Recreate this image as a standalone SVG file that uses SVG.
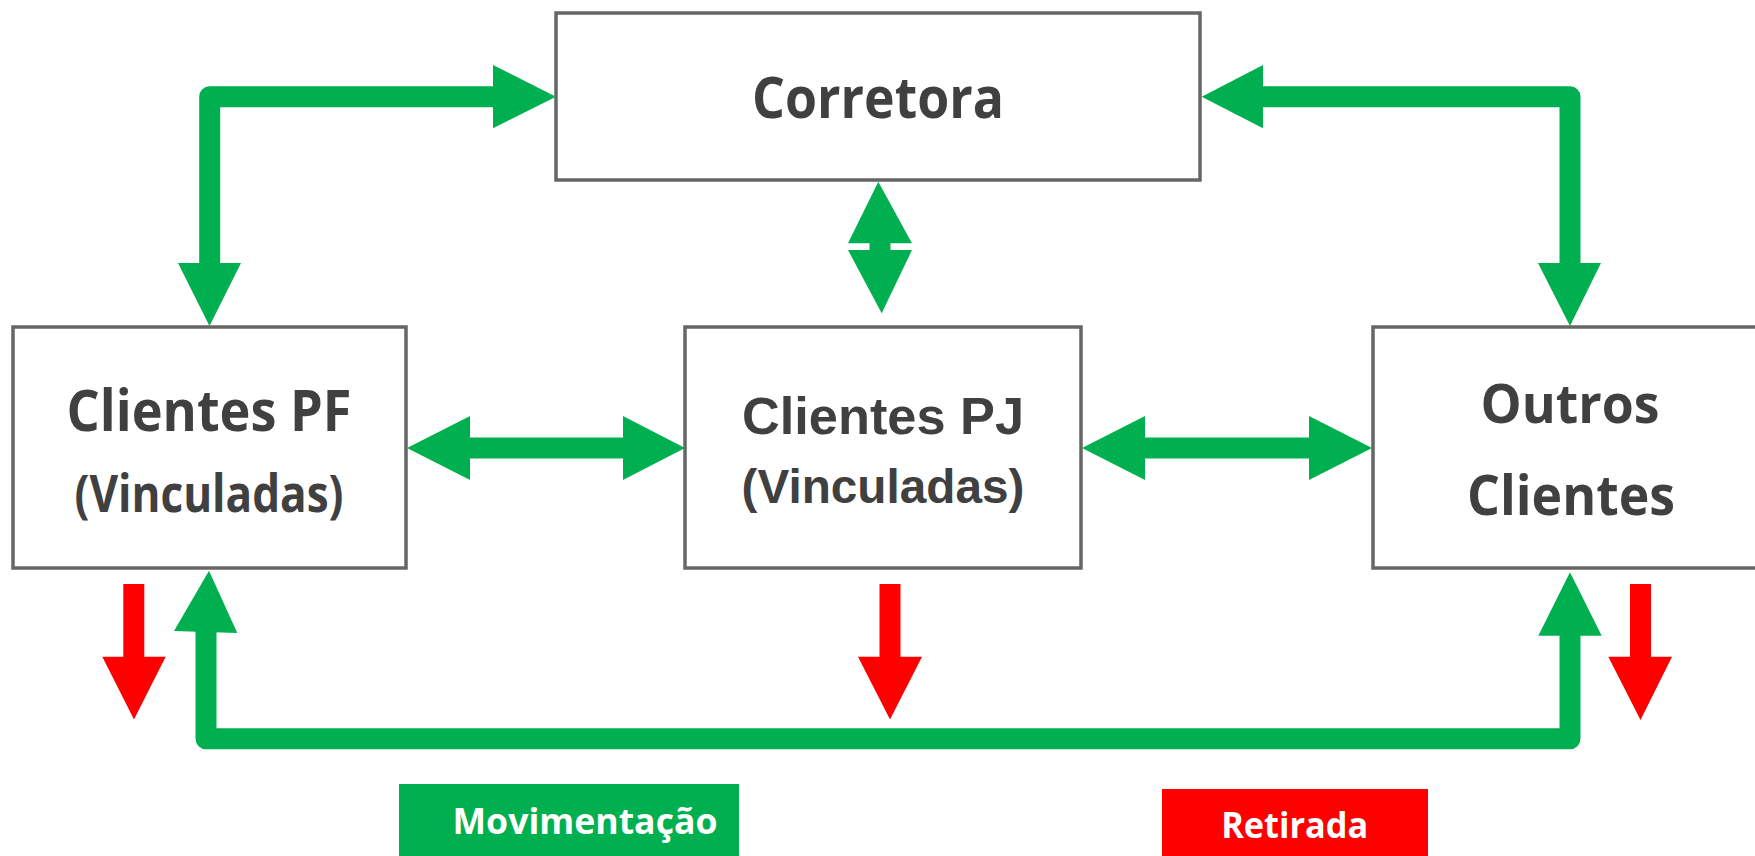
<svg xmlns="http://www.w3.org/2000/svg" width="1755" height="856" viewBox="0 0 1755 856">
<style>
.box{fill:#fff;stroke:#666;stroke-width:3.5}
.t{font-family:"Open Sans","Noto Sans",sans-serif;font-weight:700;fill:#404040;text-anchor:middle}
.ta{font-family:"Liberation Sans",Arial,sans-serif;font-weight:700;fill:#404040;text-anchor:middle}
.lg{font-family:"Open Sans","Noto Sans",sans-serif;font-weight:700;fill:#fff;text-anchor:middle;font-size:36px}
.shaft{fill:none;stroke:#00B050;stroke-width:21;stroke-linejoin:round}
.head{fill:#00B050}
.red{fill:#FF0000}
</style>
<rect width="1755" height="856" fill="#fff"/>
<g id="corretora">
<rect class="box" x="556" y="13" width="644" height="167"/>
<text class="t" x="878" y="118" font-size="57" textLength="252" lengthAdjust="spacingAndGlyphs">Corretora</text>
</g>
<g id="clientes-pf">
<rect class="box" x="13" y="327" width="393" height="241"/>
<text class="t" x="209" y="431" font-size="57" textLength="285" lengthAdjust="spacingAndGlyphs">Clientes PF</text>
<text class="t" x="209" y="512" font-size="52" textLength="269" lengthAdjust="spacingAndGlyphs">(Vinculadas)</text>
</g>
<g id="clientes-pj">
<rect class="box" x="685" y="327" width="396" height="241"/>
<text class="ta" x="883" y="434" font-size="52" textLength="282" lengthAdjust="spacingAndGlyphs">Clientes PJ</text>
<text class="ta" x="883" y="503" font-size="48" textLength="283" lengthAdjust="spacingAndGlyphs">(Vinculadas)</text>
</g>
<g id="outros-clientes">
<rect class="box" x="1373" y="327" width="420" height="241"/>
<text class="t" x="1570" y="423" font-size="53" textLength="179" lengthAdjust="spacingAndGlyphs">Outros</text>
<text class="t" x="1571" y="515" font-size="55" textLength="208" lengthAdjust="spacingAndGlyphs">Clientes</text>
</g>
<g id="connectors">
<path class="shaft" d="M494 96.7 H209.7 V264"/>
<polygon class="head" points="493,65 556,96.7 493,128.3"/>
<polygon class="head" points="178,263 241,263 209.5,326"/>
<path class="shaft" d="M1262 96.7 H1570 V264"/>
<polygon class="head" points="1263,65 1201.7,96.7 1263,128.3"/>
<polygon class="head" points="1538,263 1601,263 1570,326"/>
<rect class="head" x="869.5" y="242" width="21" height="9"/>
<polygon class="head" points="848,243.3 878.3,181.7 912,243.3"/>
<polygon class="head" points="848,250 912,250 881.7,313.3"/>
<rect class="head" x="469" y="437.5" width="155" height="21"/>
<polygon class="head" points="470,416 407,448 470,480"/>
<polygon class="head" points="623,416 685,448 623,480"/>
<rect class="head" x="1144" y="437.5" width="166" height="21"/>
<polygon class="head" points="1145,416 1082,448 1145,480"/>
<polygon class="head" points="1309,416 1372,448 1309,480"/>
<path class="shaft" d="M206 630 V738.8 H1570 V634"/>
<polygon class="head" points="174,631 237.3,633 209,570.7"/>
<polygon class="head" points="1538.3,635.7 1601.7,635.7 1570,572.3"/>
<polygon class="red" points="123.3,584 144.3,584 144.3,656.7 165.7,656.7 134,719.5 102.3,656.7 123.3,656.7"/>
<polygon class="red" points="879.5,584 900.5,584 900.5,656.7 922,656.7 890,719.5 858,656.7 879.5,656.7"/>
<polygon class="red" points="1630,584 1651,584 1651,656.7 1672,656.7 1640.5,720 1608.3,656.7 1630,656.7"/>
</g>
<g id="legend-movimentacao">
<rect x="399" y="784" width="340" height="72" fill="#00B050"/>
<text class="lg" x="585" y="834" textLength="265" lengthAdjust="spacingAndGlyphs">Movimentação</text>
</g>
<g id="legend-retirada">
<rect x="1162" y="789" width="266" height="67" fill="#FF0000"/>
<text class="lg" x="1294.7" y="838" textLength="147" lengthAdjust="spacingAndGlyphs">Retirada</text>
</g>
</svg>
